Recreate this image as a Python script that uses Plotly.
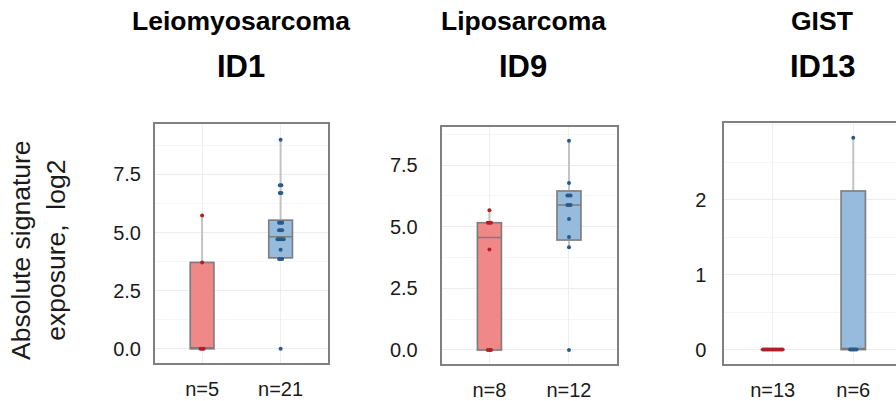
import plotly.graph_objects as go
import numpy as np

# ---------------- data ----------------
panel_titles = ["Leiomyosarcoma", "Liposarcoma", "GIST"]
panel_ids = ["ID1", "ID9", "ID13"]
group_labels = [["n=5", "n=21"], ["n=8", "n=12"], ["n=13", "n=6"]]

# individual exposure values (log2) per panel: [group A, group B]
p1_red = [0, 0, 0, 3.71, 5.73]
p1_blue = [0, 3.86, 3.86, 3.86, 4.26, 4.71, 4.71, 4.71, 4.71, 4.71,
           5.10, 5.10, 5.10, 5.42, 5.42, 5.42, 6.70, 6.70, 7.03, 7.03, 8.99]
p2_red = [0, 0, 0, 4.08, 5.16, 5.16, 5.16, 5.67]
p2_blue = [0, 4.17, 4.58, 5.31, 5.88, 5.88, 5.88, 6.27, 6.27, 6.27, 6.77, 8.49]
p3_red = [0] * 13
p3_blue = [0, 0, 0, 0, 0, 2.83]

# box statistics: (q1, median, q3, lower whisker, upper whisker)
p1_red_stats = [0, 0, 3.71, 0, 5.73]
p1_blue_stats = [3.91, 4.82, 5.53, 3.86, 8.99]
p2_red_stats = [0, 4.56, 5.16, 0, 5.67]
p2_blue_stats = [4.46, 5.88, 6.45, 4.17, 8.49]
p3_red_stats = [0, 0, 0, 0, 0]
p3_blue_stats = [0, 0, 2.12, 0, 2.83]

y_ticks = [[0, 2.5, 5, 7.5], [0, 2.5, 5, 7.5], [0, 1, 2]]
y_ticktext = [["0.0", "2.5", "5.0", "7.5"], ["0.0", "2.5", "5.0", "7.5"], ["0", "1", "2"]]

panels = [
    dict(vals=[p1_red, p1_blue], stats=[p1_red_stats, p1_blue_stats]),
    dict(vals=[p2_red, p2_blue], stats=[p2_red_stats, p2_blue_stats]),
    dict(vals=[p3_red, p3_blue], stats=[p3_red_stats, p3_blue_stats]),
]

# ---------------- style / layout ----------------
W, H = 896, 401
FONT = "Liberation Sans, Arial, sans-serif"
fills = ["rgb(240,136,136)", "rgb(150,187,221)"]
pts = ["rgb(180,30,40)", "rgb(40,90,140)"]
spread = 0.02

# panel pixel boxes (left, right, top, bottom)
boxes = [(155, 327.7, 127, 370), (441.7, 616.7, 130, 371.7), (724.3, 896, 126, 371.7)]
yranges = [[-0.6, 9.65], [-0.58, 9.03], [-0.196, 3.02]]
xranges = [[-0.6, 1.6], [-0.6, 1.6], [-0.6, 1.53]]
yminor = [1.25, 1.25, 0.5]
ystandoff = [8, 18, 12]
title_x = [241, 523, 822]

fig = go.Figure()
layout = dict(
    width=W, height=H, margin=dict(l=0, r=0, t=0, b=0),
    paper_bgcolor="white", plot_bgcolor="white", showlegend=False,
    font=dict(family=FONT, color="#1a1a1a"),
)

annotations = []
for i, p in enumerate(panels):
    xa = "x" if i == 0 else f"x{i+1}"
    ya = "y" if i == 0 else f"y{i+1}"
    for g in range(2):
        q1, med, q3, lo, hi = p["stats"][g]
        # whiskers (light grey)
        fig.add_trace(go.Box(
            x=[g], q1=[q1], median=[med], q3=[q3], lowerfence=[lo], upperfence=[hi],
            width=0.3, whiskerwidth=0, fillcolor=fills[g],
            line=dict(color="rgb(195,195,195)", width=2),
            boxpoints=False, xaxis=xa, yaxis=ya, hoverinfo="skip"))
        # box outline + median (darker grey)
        fig.add_trace(go.Box(
            x=[g], q1=[q1], median=[med], q3=[q3], lowerfence=[q1], upperfence=[q3],
            width=0.3, whiskerwidth=0, fillcolor=fills[g],
            line=dict(color="rgb(125,125,125)", width=1.5),
            boxpoints=False, xaxis=xa, yaxis=ya, hoverinfo="skip"))
        # points, tied values spread slightly sideways
        v = np.array(p["vals"][g], dtype=float)
        xs = np.zeros(len(v))
        for u in np.unique(v):
            idx = np.where(v == u)[0]
            n = len(idx)
            if n > 1:
                half = spread * (n - 1) / 2
                xs[idx] = np.linspace(-half, half, n)
        fig.add_trace(go.Scatter(
            x=g + xs, y=v, mode="markers",
            marker=dict(size=4, color=pts[g], symbol="circle"),
            xaxis=xa, yaxis=ya, hoverinfo="skip"))

    l, r, t, b = boxes[i]
    xkey = "xaxis" if i == 0 else f"xaxis{i+1}"
    ykey = "yaxis" if i == 0 else f"yaxis{i+1}"
    last = i == 2
    layout[xkey] = dict(
        domain=[l / W, min(r / W, 1.0)], anchor=ya, range=xranges[i],
        tickvals=[0, 1], ticktext=group_labels[i], ticks="",
        ticklabelstandoff=7,
        tickfont=dict(size=20, color="#1a1a1a", family=FONT),
        showgrid=True, gridcolor="rgb(238,238,238)", gridwidth=1,
        zeroline=False, showline=True, linecolor="rgb(128,128,128)", linewidth=2,
        mirror=True, fixedrange=True,
    )
    layout[ykey] = dict(
        domain=[(H - b) / H, (H - t) / H], anchor=xa, range=yranges[i],
        tickvals=y_ticks[i], ticktext=y_ticktext[i], ticks="",
        ticklabelstandoff=ystandoff[i],
        tickfont=dict(size=20, color="#1a1a1a", family=FONT),
        showgrid=True, gridcolor="rgb(236,236,236)", gridwidth=1,
        minor=dict(dtick=yminor[i], tick0=0, showgrid=True,
                   gridcolor="rgb(246,246,246)", gridwidth=1),
        zeroline=False, showline=True, linecolor="rgb(128,128,128)", linewidth=2,
        mirror=(not last), fixedrange=True,
    )
    annotations.append(dict(
        text=f"<b>{panel_titles[i]}</b>", x=title_x[i] / W, y=1 - 21 / H,
        xref="paper", yref="paper", xanchor="center", yanchor="middle",
        showarrow=False, font=dict(size=26.5, color="black", family=FONT)))
    annotations.append(dict(
        text=f"<b>{panel_ids[i]}</b>", x=title_x[i] / W, y=1 - 68 / H,
        xref="paper", yref="paper", xanchor="center", yanchor="middle",
        showarrow=False, font=dict(size=31, color="black", family=FONT)))

annotations.append(dict(
    text="Absolute signature<br>exposure,&nbsp; log2", textangle=-90,
    x=38 / W, y=1 - 255 / H, xref="paper", yref="paper",
    xanchor="center", yanchor="middle", showarrow=False,
    font=dict(size=26.5, color="#1a1a1a", family=FONT)))

layout["annotations"] = annotations
fig.update_layout(**layout)
fig.write_html("out.html")
